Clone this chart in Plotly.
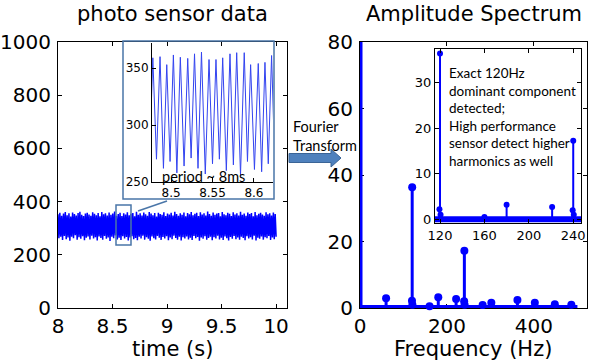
import plotly.graph_objects as go

# ---------------- data ----------------
# main time trace: successive crest / trough values from 8 s to 10 s
band_peaks = [
    352, 358, 347, 355, 361, 349, 356, 344, 359, 353,
    348, 357, 362, 350, 346, 355, 358, 351, 347, 360,
    354, 349, 357, 345, 361, 352, 356, 348, 359, 350,
    355, 363, 347, 353, 358, 346, 356, 351, 360, 349,
    354, 357, 345, 362, 350, 356, 348, 359, 352, 347,
    361, 355, 349, 357, 344, 358, 353, 350, 360, 346,
    355, 351, 358, 348, 362, 353, 347, 356, 350, 359,
    345, 357, 352, 361, 349, 354, 358, 346, 360, 351,
    356, 348, 363, 353, 347, 359, 350, 355, 357, 345,
    361, 352, 349, 358, 354, 346, 360, 351, 356, 348,
    362, 350, 355, 347, 359, 353, 357, 345, 361, 349,
    354, 358, 351, 347, 360, 352, 356, 348, 359, 353]
band_troughs = [
    262, 268, 256, 271, 259, 265, 253, 268, 262, 274,
    257, 266, 260, 270, 255, 264, 269, 258, 272, 261,
    266, 254, 269, 263, 257, 271, 260, 265, 252, 268,
    262, 273, 258, 264, 256, 270, 261, 267, 254, 265,
    270, 259, 263, 255, 268, 261, 272, 257, 266, 260,
    253, 269, 262, 258, 271, 264, 256, 267, 261, 270,
    255, 265, 259, 272, 263, 257, 268, 254, 266, 261,
    269, 258, 264, 256, 271, 262, 267, 253, 265, 260,
    270, 257, 263, 268, 255, 266, 261, 272, 258, 264,
    256, 269, 262, 254, 267, 260, 271, 259, 265, 257,
    268, 263, 255, 270, 261, 266, 258, 272, 254, 264,
    260, 269, 257, 266, 262, 271, 256, 265, 259, 268]
band_t_start = 8.0
band_t_end = 10.0

# zoomed inset (8.477 s – 8.623 s)
inset_peak_t = [8.4780, 8.4867, 8.4948, 8.5028, 8.5112, 8.5201, 8.5283, 8.5367, 8.5458,
                8.5542, 8.5623, 8.5711, 8.5792, 8.5883, 8.5960, 8.6052, 8.6133, 8.6213]
inset_peak_v = [359, 360, 353, 361.5, 359.5, 358.5, 362.5, 364, 357.5,
                357.5, 359, 362.5, 363.5, 363.5, 353, 354, 355, 361]
inset_trough_t = [8.4738, 8.4824, 8.4908, 8.4988, 8.5070, 8.5157, 8.5242, 8.5325, 8.5413, 8.5500,
                  8.5583, 8.5667, 8.5752, 8.5838, 8.5922, 8.6006, 8.6093, 8.6173, 8.6253]
inset_trough_v = [266, 270, 262, 268, 258, 264, 271, 262, 257, 266,
                  270, 260, 265, 256, 268, 261, 259, 266, 262]

# amplitude spectrum
dc_freq = [0]
dc_amp = [300]
spec_freq = [60, 119.5, 120, 120.5, 160, 180, 221, 239.5, 240, 240.5, 282, 302, 362, 402, 448, 486]
spec_amp = [2.9, 2.2, 36.3, 1.0, 0.5, 3.2, 2.7, 2.0, 17.2, 1.0, 0.9, 1.6, 2.4, 1.6, 1.1, 1.0]
floor_freq = [0, 500]
floor_amp = [0, 0]

# tick values
left_xticks = [8, 8.5, 9, 9.5, 10]
left_yticks = [0, 200, 400, 600, 800, 1000]
linset_xticks = [8.5, 8.55, 8.6]
linset_yticks = [250, 300, 350]
right_xticks = [0, 200, 400]
right_yticks = [0, 20, 40, 60, 80]
rinset_xticks = [120, 160, 200, 240]
rinset_yticks = [0, 10, 20, 30]

# ---------------- layout helpers ----------------
W, H = 600, 363
def PX(x):
    return x / W
def PY(y):
    return 1 - y / H

BLUE = "#0000ff"
FRAME = "#4a76a8"
BIG = dict(family="DejaVu Sans", size=20, color="black")
SMALL = dict(family="DejaVu Sans", size=12, color="black")
MED = dict(family="DejaVu Sans", size=13, color="black")
CAL = "Lato"

fig = go.Figure()

# --- left main: photo sensor data ---
band_y = []
for p, t in zip(band_peaks, band_troughs):
    band_y += [p, t]
n = len(band_y)
fig.add_trace(go.Scatter(
    x0=band_t_start, dx=(band_t_end - band_t_start) / (n - 1), y=band_y,
    mode="lines", line=dict(color=BLUE, width=1.5, simplify=False), xaxis="x", yaxis="y",
    showlegend=False, hoverinfo="skip"))

# --- left inset ---
pts = sorted(list(zip(inset_peak_t, inset_peak_v)) + list(zip(inset_trough_t, inset_trough_v)))
fig.add_trace(go.Scatter(
    x=[p[0] for p in pts], y=[p[1] for p in pts],
    mode="lines", line=dict(color="#3344f0", width=1, simplify=False), xaxis="x2", yaxis="y2",
    showlegend=False, hoverinfo="skip"))

# --- spectrum (main + inset) ---
def stems(fr, am):
    xs, ys = [], []
    for f, a in zip(fr, am):
        xs += [f, f, None]
        ys += [0, a, None]
    return xs, ys

for xa, ya, lw, ms, fw in [("x3", "y3", 3, 8, 6), ("x4", "y4", 2, 6, 6)]:
    fig.add_trace(go.Scatter(x=floor_freq, y=floor_amp, mode="lines",
                             line=dict(color=BLUE, width=fw), xaxis=xa, yaxis=ya,
                             cliponaxis=(xa == "x4"), showlegend=False, hoverinfo="skip"))
    sx, sy = stems(dc_freq, dc_amp)
    fig.add_trace(go.Scatter(x=sx, y=sy, mode="lines", line=dict(color=BLUE, width=lw + 2),
                             xaxis=xa, yaxis=ya, showlegend=False, hoverinfo="skip"))
    sx, sy = stems(spec_freq, spec_amp)
    fig.add_trace(go.Scatter(x=sx, y=sy, mode="lines", line=dict(color=BLUE, width=lw),
                             xaxis=xa, yaxis=ya, showlegend=False, hoverinfo="skip"))
    fig.add_trace(go.Scatter(x=spec_freq, y=spec_amp, mode="markers",
                             marker=dict(color=BLUE, size=ms), xaxis=xa, yaxis=ya,
                             cliponaxis=False, showlegend=False, hoverinfo="skip"))

def ax(domain, rng, ticks, font, mirror=True, standoff=None, layer="above traces", **kw):
    d = dict(domain=domain, range=rng, tickvals=ticks, ticktext=[f"{t:g}" for t in ticks],
             ticks="inside", ticklen=4, tickcolor="black", tickwidth=1,
             showline=True, linecolor="black", linewidth=1, automargin=False,
             mirror="ticks" if mirror else False, showgrid=False, zeroline=False,
             tickfont=font, fixedrange=True, layer=layer)
    if standoff is not None:
        d["ticklabelstandoff"] = standoff
    d.update(kw)
    return d

fig.update_layout(
    template="none",
    width=W, height=H, autosize=False,
    margin=dict(l=0, r=0, t=0, b=0, pad=0),
    paper_bgcolor="white", plot_bgcolor="rgba(0,0,0,0)",
    xaxis=ax([PX(58), PX(287)], [8, 10.1], left_xticks, BIG, standoff=0, anchor="y"),
    yaxis=ax([PY(308), PY(42)], [0, 1000], left_yticks, BIG, standoff=2, anchor="x"),
    xaxis2=ax([PX(152), PX(273)], [8.477, 8.623], linset_xticks, SMALL, mirror=False, anchor="y2"),
    yaxis2=ax([PY(182), PY(43)], [250, 372], linset_yticks, SMALL, mirror=False, anchor="x2"),
    xaxis3=ax([PX(360), PX(587)], [0, 522], right_xticks, BIG, standoff=0, anchor="y3",
              layer="below traces"),
    yaxis3=ax([PY(308), PY(42)], [0, 80], right_yticks, BIG, standoff=2, anchor="x3",
              layer="below traces"),
    xaxis4=ax([PX(435), PX(581)], [115.5, 247], rinset_xticks, MED, anchor="y4"),
    yaxis4=ax([PY(223), PY(49)], [-0.8, 37.3], rinset_yticks, MED, anchor="x4"),
)

shapes = [
    # white background for right inset
    dict(type="rect", xref="paper", yref="paper", x0=PX(435), x1=PX(581), y0=PY(223), y1=PY(49),
         fillcolor="white", line=dict(width=0), layer="below"),
    # left inset frame
    dict(type="rect", xref="paper", yref="paper", x0=PX(123), x1=PX(274), y0=PY(199), y1=PY(41),
         line=dict(color=FRAME, width=1.5)),
    # small zoom rectangle
    dict(type="rect", xref="paper", yref="paper", x0=PX(116), x1=PX(131), y0=PY(245), y1=PY(205),
         line=dict(color=FRAME, width=1.5)),
    # connector
    dict(type="line", xref="paper", yref="paper", x0=PX(138), y0=PY(211), x1=PX(167), y1=PY(201),
         line=dict(color=FRAME, width=1.5)),
    # Fourier arrow
    dict(type="path", xref="paper", yref="paper",
         path=(f"M {PX(289)},{PY(153.5)} L {PX(331)},{PY(153.5)} L {PX(331)},{PY(149)} "
               f"L {PX(341)},{PY(158)} L {PX(331)},{PY(167)} L {PX(331)},{PY(162.5)} "
               f"L {PX(289)},{PY(162.5)} Z"),
         fillcolor="#4f81bd", line=dict(color="#3b6496", width=1)),
]
fig.update_layout(shapes=shapes)

ann = [
    dict(text="photo sensor data", x=PX(172.5), y=PY(14), font=dict(family="DejaVu Sans", size=21)),
    dict(text="Amplitude Spectrum", x=PX(474), y=PY(14), font=dict(family="DejaVu Sans", size=21)),
    dict(text="time (s)", x=PX(172), y=PY(349), font=dict(family="DejaVu Sans", size=21)),
    dict(text="Frequency (Hz)", x=PX(473), y=PY(349), font=dict(family="DejaVu Sans", size=21)),
    dict(text="period ~ 8ms", x=PX(203.5), y=PY(176), font=dict(family=CAL, size=14.5)),
    dict(text="Fourier<br>Transform", x=PX(291), y=PY(136), xanchor="left", align="left",
         font=dict(family=CAL, size=14.5)),
    dict(text=("Exact 120Hz<br>dominant component<br>detected;<br>High performance<br>"
               "sensor detect higher<br>harmonics as well"),
         x=PX(447), y=PY(116.5), xanchor="left", align="left",
         font=dict(family=CAL, size=13.5)),
]
for a in ann:
    a.setdefault("xanchor", "center")
    a.update(xref="paper", yref="paper", yanchor="middle", showarrow=False)
    a["font"].setdefault("color", "black")
fig.update_layout(annotations=ann)

fig.write_html("out.html", config={"displayModeBar": False},
               post_script="document.body.style.margin='0';")
